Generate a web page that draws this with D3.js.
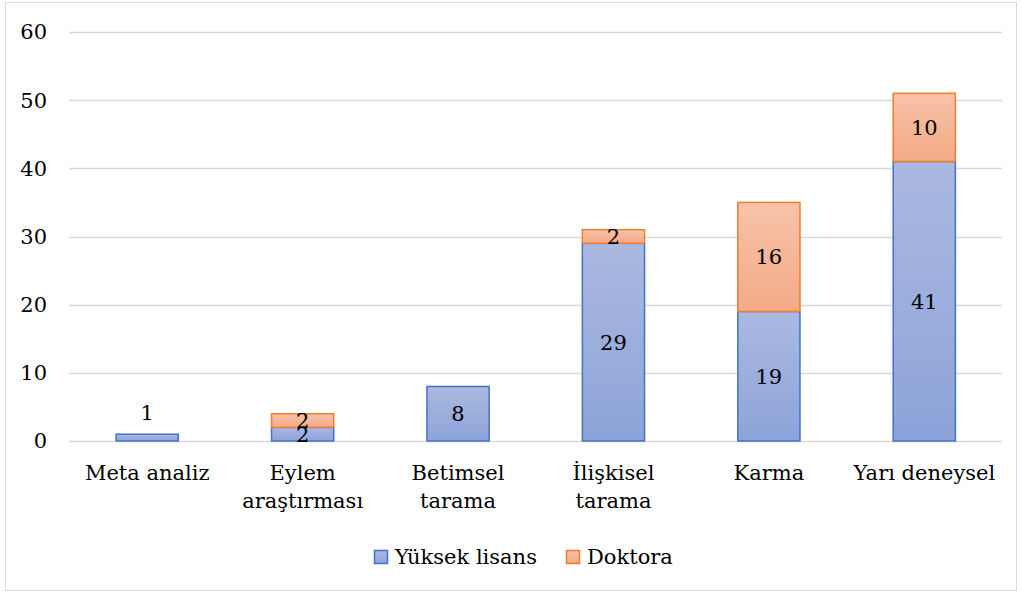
<!DOCTYPE html>
<html><head><meta charset="utf-8">
<script src="https://cdn.jsdelivr.net/npm/d3@7"></script>
<style>body{margin:0;background:#fff}svg{display:block}</style>
</head><body>
<svg id="c" width="1022" height="593"></svg>
<script>
const categories = [["Meta analiz"],["Eylem","araştırması"],["Betimsel","tarama"],["İlişkisel","tarama"],["Karma"],["Yarı deneysel"]];
const yuksekLisans = [1,2,8,29,19,41];
const doktora = [0,2,0,2,16,10];
const seriesNames = ["Yüksek lisans","Doktora"];
const yTicks = [0,10,20,30,40,50,60];

const FONT = "DejaVu Serif";
const FS = 21;
const svg = d3.select("#c");
const defs = svg.append("defs");
const gb = defs.append("linearGradient").attr("id","gb").attr("x1",0).attr("y1",0).attr("x2",0).attr("y2",1);
gb.append("stop").attr("offset",0).attr("stop-color","#abb9e1");
gb.append("stop").attr("offset",1).attr("stop-color","#8da3d9");
const go = defs.append("linearGradient").attr("id","go").attr("x1",0).attr("y1",0).attr("x2",0).attr("y2",1);
go.append("stop").attr("offset",0).attr("stop-color","#f7c3a9");
go.append("stop").attr("offset",1).attr("stop-color","#f3aa86");

svg.append("rect").attr("x",5.5).attr("y",2.5).attr("width",1011).attr("height",588)
  .attr("fill","none").attr("stroke","#d9d9d9");

const x = d3.scaleBand().domain(d3.range(categories.length)).range([69.5,1002]).paddingInner(0.6).paddingOuter(0.3);
const y = d3.scaleLinear().domain([0,60]).range([441,32]);

// grid
svg.append("g").selectAll("line").data(yTicks).join("line")
  .attr("x1",69).attr("x2",1002).attr("y1",d=>Math.round(y(d))+0.5).attr("y2",d=>Math.round(y(d))+0.5)
  .attr("stroke","#d9d9d9").attr("stroke-width",1.3);

// y labels
svg.append("g").selectAll("text").data(yTicks).join("text")
  .attr("x",47).attr("y",d=>y(d)).attr("dy","0.35em").attr("text-anchor","end")
  .attr("font-family",FONT).attr("font-size",FS).attr("fill","#000").text(d=>d);

const bw = x.bandwidth();
const data = categories.map((c,i)=>({i, a:yuksekLisans[i], b:doktora[i]}));

// bars
const g = svg.append("g");
data.forEach(d=>{
  const x0 = x(d.i);
  if (d.a>0) g.append("rect").attr("x",x0).attr("y",y(d.a)).attr("width",bw).attr("height",y(0)-y(d.a))
    .attr("fill","url(#gb)").attr("stroke","#4472c4").attr("stroke-width",1.5);
  if (d.b>0) g.append("rect").attr("x",x0).attr("y",y(d.a+d.b)).attr("width",bw).attr("height",y(d.a)-y(d.a+d.b))
    .attr("fill","url(#go)").attr("stroke","#ed7d31").attr("stroke-width",1.5);
});

// value labels
const lg = svg.append("g").attr("font-family",FONT).attr("font-size",FS).attr("text-anchor","middle");
data.forEach(d=>{
  const cx = x(d.i)+bw/2;
  if (d.a>0) {
    let cy = (y(0)+y(d.a))/2;
    if (d.b===0 && y(0)-y(d.a) < 20) cy = y(d.a) - 22;
    lg.append("text").attr("x",cx).attr("y",cy).attr("dy","0.35em").text(d.a);
  }
  if (d.b>0) {
    const cy = (y(d.a)+y(d.a+d.b))/2;
    lg.append("text").attr("x",cx).attr("y",cy).attr("dy","0.35em").text(d.b);
  }
});

// category labels
const cg = svg.append("g").attr("font-family",FONT).attr("font-size",FS).attr("text-anchor","middle");
categories.forEach((lines,i)=>{
  const t = cg.append("text").attr("x",x(i)+bw/2).attr("y",480);
  lines.forEach((l,k)=>t.append("tspan").attr("x",x(i)+bw/2).attr("dy",k===0?0:28).text(l));
});

// legend
const leg = svg.append("g").attr("font-family",FONT).attr("font-size",FS);
const legItems = [{n:seriesNames[0],f:"url(#gb)",s:"#4472c4",x:374},{n:seriesNames[1],f:"url(#go)",s:"#ed7d31",x:566}];
legItems.forEach(it=>{
  leg.append("rect").attr("x",it.x+0.5).attr("y",550.5).attr("width",13).attr("height",13)
    .attr("fill",it.f).attr("stroke",it.s).attr("stroke-width",1.5);
  leg.append("text").attr("x",it.x+21).attr("y",557).attr("dy","0.35em").text(it.n);
});
</script>
</body></html>
